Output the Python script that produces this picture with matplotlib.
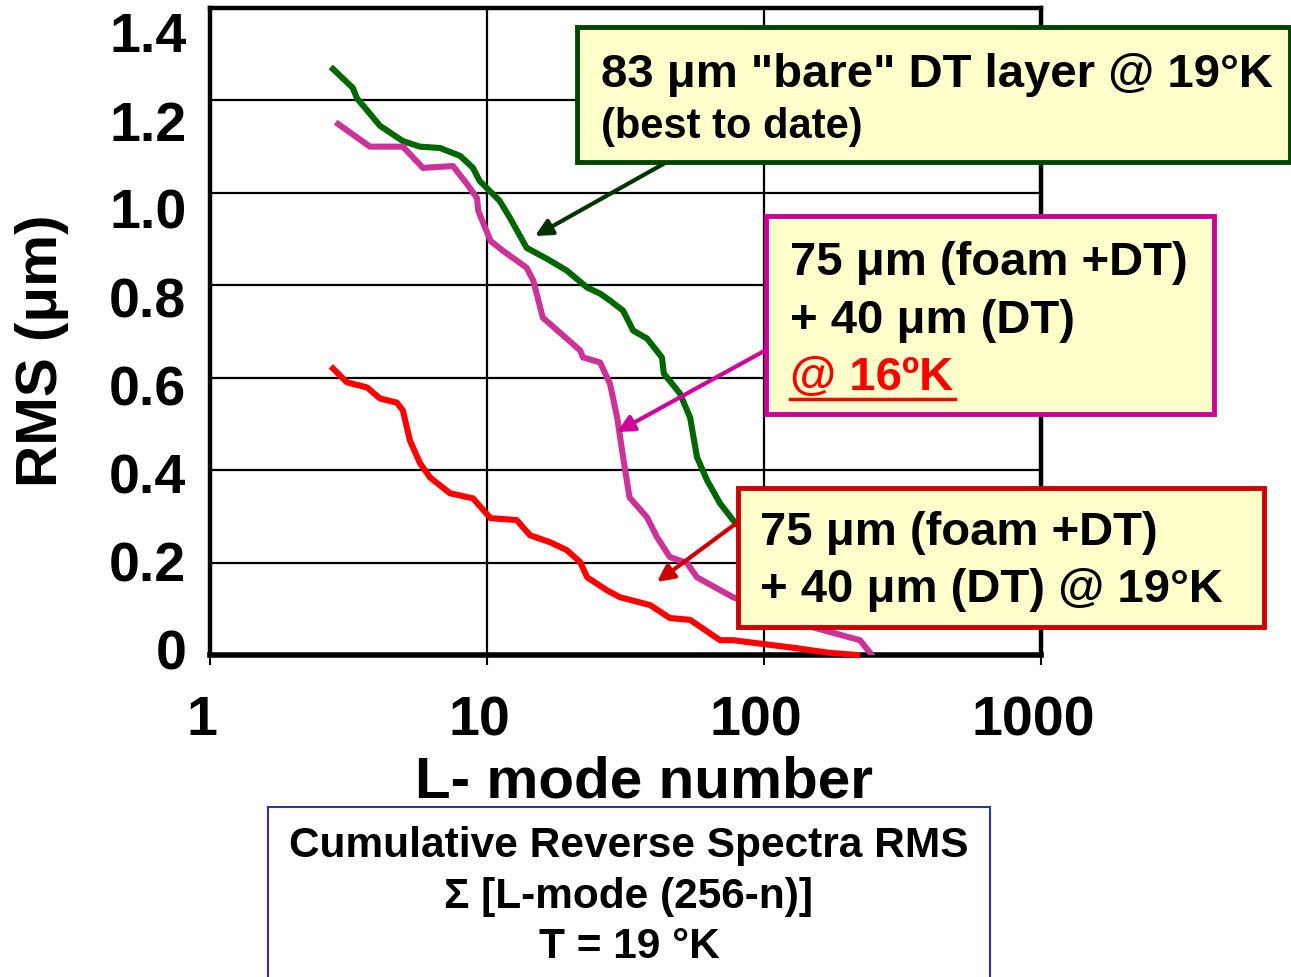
import matplotlib
matplotlib.use("Agg")
import matplotlib.pyplot as plt
from matplotlib.patches import Rectangle
from matplotlib.transforms import ScaledTranslation

# ---------------- data ----------------
green_x = [2.78, 3.28, 3.39, 4.11, 4.97, 5.73, 6.77, 8.0, 8.9, 9.4, 11.1, 12.1, 13.9, 16.5, 19.4,
           23.0, 25.6, 27.8, 31.0, 33.7, 37.8, 42.8, 43.5, 49.7, 54.1, 57.3, 62.3, 69.4, 77.3, 90.0, 120.0]
green_y = [1.268, 1.227, 1.205, 1.145, 1.112, 1.100, 1.097, 1.080, 1.054, 1.026, 0.983, 0.946, 0.881,
           0.857, 0.832, 0.795, 0.782, 0.767, 0.745, 0.702, 0.685, 0.644, 0.609, 0.566, 0.514, 0.428,
           0.378, 0.328, 0.292, 0.25, 0.17]

magenta_x = [2.90, 3.78, 4.97, 5.87, 7.54, 8.47, 9.2, 9.3, 10.3, 11.4, 13.9, 14.7, 15.9, 21.7, 22.2,
             25.6, 27.8, 29.5, 31.0, 32.7, 37.8, 41.1, 45.7, 52.7, 57.3, 77.3, 150.0, 222.0, 245.0]
magenta_y = [1.149, 1.100, 1.100, 1.054, 1.058, 1.019, 0.989, 0.961, 0.896, 0.875, 0.838, 0.810,
             0.730, 0.659, 0.644, 0.633, 0.587, 0.514, 0.428, 0.341, 0.298, 0.255, 0.212, 0.199,
             0.168, 0.125, 0.060, 0.032, 0.0]

red_x = [2.78, 3.12, 3.69, 4.11, 4.73, 4.97, 5.27, 5.73, 6.23, 7.35, 8.9, 10.3, 12.8, 14.3, 16.9,
         19.4, 21.7, 23.0, 27.1, 30.2, 38.8, 45.7, 54.1, 69.4, 77.3, 105.0, 130.0, 170.0, 217.0]
red_y = [0.620, 0.590, 0.579, 0.555, 0.546, 0.529, 0.464, 0.415, 0.384, 0.350, 0.339, 0.296, 0.292,
         0.259, 0.244, 0.227, 0.201, 0.168, 0.140, 0.125, 0.108, 0.080, 0.076, 0.032, 0.032, 0.022,
         0.015, 0.005, 0.0]

x_ticks = [1, 10, 100, 1000]
x_ticklabels = ["1", "10", "100", "1000"]
y_ticks = [0, 0.2, 0.4, 0.6, 0.8, 1.0, 1.2, 1.4]
y_ticklabels = ["0", "0.2", "0.4", "0.6", "0.8", "1.0", "1.2", "1.4"]

label_green = ['83 μm "bare" DT layer @ 19°K', "(best to date)"]
label_magenta = ["75 μm (foam +DT)", "+ 40 μm (DT)", "@ 16ºK"]
label_red = ["75 μm (foam +DT)", "+ 40 μm (DT) @ 19°K"]
bottom_lines = ["Cumulative Reverse Spectra RMS", "Σ [L-mode (256-n)]", "T = 19 °K"]

# ---------------- style ----------------
W, H = 1291, 977
plt.rcParams["font.family"] = ["Liberation Sans", "DejaVu Sans"]

fig = plt.figure(figsize=(W / 100, H / 100), dpi=100)


def fx(px):
    return px / W


def fy(py):
    return 1 - py / H


ax = fig.add_axes([fx(210), fy(655), fx(1041) - fx(210), fy(8) - fy(655)])
ax.set_xscale("log")
ax.set_xlim(1, 1000)
ax.set_ylim(0, 1.4)

LW = 4.4
ax.plot(green_x, green_y, color="#006600", lw=LW, zorder=3, solid_joinstyle="round")
ax.plot(magenta_x, magenta_y, color="#CC3399", lw=LW, zorder=3, solid_joinstyle="round")
ax.plot(red_x, red_y, color="#FF0000", lw=LW, zorder=3, solid_joinstyle="round", clip_on=False)

ax.set_xticks(x_ticks)
ax.set_xticklabels(x_ticklabels)
ax.minorticks_off()
ax.set_yticks(y_ticks)
ax.set_yticklabels(y_ticklabels)
ax.tick_params(axis="x", direction="out", length=7, width=1.5, pad=22, labelsize=40)
ax.tick_params(axis="y", direction="out", length=0, width=1.5, pad=17, labelsize=40)
for lab in ax.get_xticklabels():
    lab.set_fontweight("bold")
    lab.set_transform(lab.get_transform() + ScaledTranslation(-0.08, 0, fig.dpi_scale_trans))
for i, lab in enumerate(ax.get_yticklabels()):
    lab.set_fontweight("bold")
    dy = (-5 + 4.2 * i) / 100.0
    lab.set_transform(lab.get_transform() + ScaledTranslation(0, -dy, fig.dpi_scale_trans))

ax.grid(True, which="major", color="black", lw=1.6)
for s in ax.spines.values():
    s.set_linewidth(3.2)
    s.set_color("black")
ax.spines["bottom"].set_linewidth(4)
ax.set_axisbelow(True)

fig.text(fx(42), fy(351), "RMS (μm)", rotation=90, ha="center", va="center",
         fontsize=42, fontweight="bold")
fig.text(fx(644), fy(782), "L- mode number", ha="center", va="center",
         fontsize=42, fontweight="bold")


def box(x0, y0, x1, y1, edge, lw):
    r = Rectangle((fx(x0), fy(y1)), fx(x1) - fx(x0), fy(y0) - fy(y1), transform=fig.transFigure,
                  facecolor="#FFFFCC", edgecolor=edge, lw=lw, zorder=10)
    fig.add_artist(r)


def arrow(x0, y0, x1, y1, color):
    ax.annotate("", xy=(fx(x1), fy(y1)), xytext=(fx(x0), fy(y0)),
                xycoords="figure fraction", textcoords="figure fraction",
                arrowprops=dict(arrowstyle="-|>,head_length=1.0,head_width=0.5", color=color,
                                lw=3, shrinkA=0, shrinkB=0), zorder=9)


# green box
box(577, 27, 1290, 162, "#004400", 3.5)
arrow(665, 163, 535, 236, "#003300")
fig.text(fx(601), fy(75), label_green[0], ha="left", va="center", fontsize=34,
         fontweight="bold", zorder=11)
fig.text(fx(601), fy(127), label_green[1], ha="left", va="center", fontsize=30,
         fontweight="bold", zorder=11)

# magenta box
box(766, 216, 1214, 414, "#CC0099", 3.5)
arrow(766, 350, 617, 432, "#D4009A")
fig.text(fx(790), fy(263), label_magenta[0], ha="left", va="center", fontsize=34,
         fontweight="bold", zorder=11)
fig.text(fx(790), fy(321), label_magenta[1], ha="left", va="center", fontsize=34,
         fontweight="bold", zorder=11)
fig.text(fx(790), fy(378), label_magenta[2], ha="left", va="center", fontsize=34,
         fontweight="bold", color="#FF0000", zorder=11)
fig.add_artist(plt.Line2D([fx(790), fx(955)], [fy(399), fy(399)], color="#FF0000", lw=2.5,
                          transform=fig.transFigure, zorder=11))

# red box
box(738, 488, 1264, 627, "#CC0000", 3.5)
arrow(738, 522, 657, 582, "#CC0000")
fig.text(fx(760), fy(533), label_red[0], ha="left", va="center", fontsize=34,
         fontweight="bold", zorder=11)
fig.text(fx(760), fy(590), label_red[1], ha="left", va="center", fontsize=34,
         fontweight="bold", zorder=11)

# bottom box
r = Rectangle((fx(268), fy(990)), fx(990) - fx(268), fy(807) - fy(990), transform=fig.transFigure,
              facecolor="white", edgecolor="#333399", lw=1.5, zorder=5)
fig.add_artist(r)
for line, py in zip(bottom_lines, [846, 897, 947]):
    fig.text(fx(629), fy(py), line, ha="center", va="center", fontsize=30.5, fontweight="bold",
             zorder=6)

fig.savefig("out.png", dpi=100)
